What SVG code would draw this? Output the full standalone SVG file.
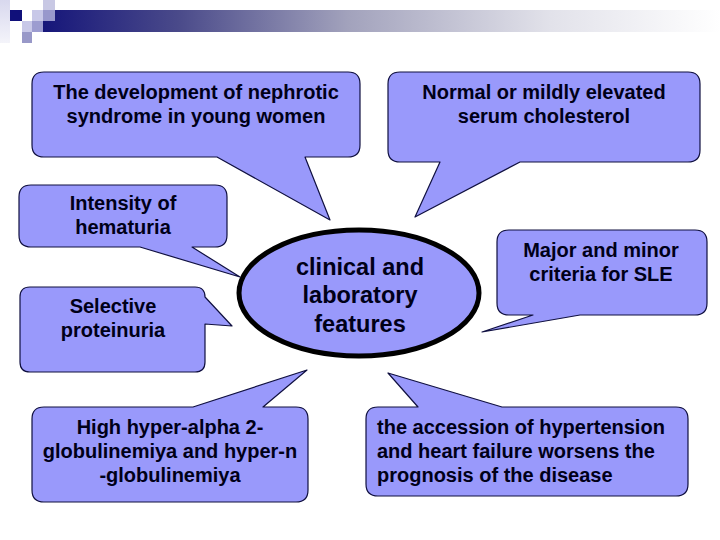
<svg xmlns="http://www.w3.org/2000/svg" width="720" height="540" viewBox="0 0 720 540">
<defs>
<linearGradient id="bar" x1="0" y1="0" x2="1" y2="0">
<stop offset="0" stop-color="#16167a"/>
<stop offset="0.2" stop-color="#4a4a8a"/>
<stop offset="0.45" stop-color="#a2a2bc"/>
<stop offset="0.75" stop-color="#e2e2ea"/>
<stop offset="1" stop-color="#ffffff"/>
</linearGradient>
<linearGradient id="strip" x1="0" y1="0" x2="0" y2="1">
<stop offset="0" stop-color="#d8d8ee"/>
<stop offset="1" stop-color="#f4f4fa"/>
</linearGradient>
<style>
.call{fill:#9999fb;stroke:#101040;stroke-width:1.2;stroke-linejoin:round}
.t{font-family:"Liberation Sans",Arial,sans-serif;font-weight:bold;font-size:20px;fill:#000018}
.c{text-anchor:middle}
.big{font-size:23.5px}
</style>
</defs>
<g id="header">
<rect x="43" y="10" width="677" height="22" fill="url(#bar)"/>
<rect x="0" y="0" width="10" height="43" fill="url(#strip)"/>
<rect x="10" y="10" width="12" height="11" fill="#10107a"/>
<rect x="32" y="10" width="11" height="11" fill="#c8c8e8"/>
<rect x="43" y="0" width="12" height="10" fill="#c8c8e4"/>
<rect x="43" y="10" width="12" height="11" fill="#9898cc"/>
<rect x="22" y="21" width="10" height="11" fill="#c8c8e8"/>
<rect x="32" y="21" width="11" height="11" fill="#9c9cd0"/>
<rect x="22" y="32" width="10" height="11" fill="#9898c8"/>
</g>
<g id="center">
<ellipse cx="359" cy="293" rx="120" ry="63" fill="#9999fb" stroke="#000" stroke-width="5"/>
<text class="t c big" x="360" y="275">clinical and</text>
<text class="t c big" x="360" y="303">laboratory</text>
<text class="t c big" x="360" y="332">features</text>
</g>
<g id="connectors"></g>
<g id="n1">
<path class="call" d="M44,72 H348 Q360,72 360,84 V145 Q360,157 348,157 H305 L330,220 L217,157 H44 Q32,157 32,145 V84 Q32,72 44,72 Z"/>
<text class="t c" x="196" y="99">The development of nephrotic</text>
<text class="t c" x="196" y="123">syndrome in young women</text>
</g>
<g id="n2">
<path class="call" d="M400,72 H688 Q700,72 700,84 V150 Q700,162 688,162 H520 L415,217 L440,162 H400 Q388,162 388,150 V84 Q388,72 400,72 Z"/>
<text class="t c" x="544" y="99">Normal or mildly elevated</text>
<text class="t c" x="544" y="123">serum cholesterol</text>
</g>
<g id="n3">
<path class="call" d="M31,185 H215 Q227,185 227,197 V235 Q227,247 215,247 H192 L240,277 L140,247 H31 Q19,247 19,235 V197 Q19,185 31,185 Z"/>
<text class="t c" x="123" y="210">Intensity of</text>
<text class="t c" x="123" y="234">hematuria</text>
</g>
<g id="n4">
<path class="call" d="M30,287 H195 Q205,287 205,297 L232,326 L205,324 V362 Q205,372 195,372 H30 Q20,372 20,362 V297 Q20,287 30,287 Z"/>
<text class="t c" x="113" y="313">Selective</text>
<text class="t c" x="113" y="337">proteinuria</text>
</g>
<g id="n5">
<path class="call" d="M509,230 H695 Q707,230 707,242 V303 Q707,315 695,315 H580 L482,332 L533,315 H509 Q497,315 497,303 V242 Q497,230 509,230 Z"/>
<text class="t c" x="601" y="257">Major and minor</text>
<text class="t c" x="601" y="281">criteria for SLE</text>
</g>
<g id="n6">
<path class="call" d="M44,407 H193 L307,370 L263,407 H296 Q308,407 308,419 V490 Q308,502 296,502 H44 Q32,502 32,490 V419 Q32,407 44,407 Z"/>
<text class="t c" x="170" y="434">High hyper-alpha 2-</text>
<text class="t c" x="170" y="458">globulinemiya and hyper-n</text>
<text class="t c" x="170" y="482">-globulinemiya</text>
</g>
<g id="n7">
<path class="call" d="M378,407 H418 L388,373 L502,407 H676 Q688,407 688,419 V484 Q688,496 676,496 H378 Q366,496 366,484 V419 Q366,407 378,407 Z"/>
<text class="t" x="377" y="434">the accession of hypertension</text>
<text class="t" x="377" y="458">and heart failure worsens the</text>
<text class="t" x="377" y="482">prognosis of the disease</text>
</g>
</svg>
